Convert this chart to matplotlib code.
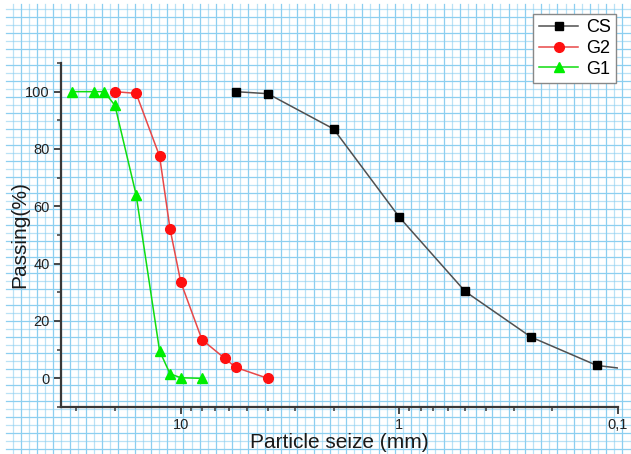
import numpy as np
import matplotlib
matplotlib.use('Agg')
import matplotlib.pyplot as plt
from matplotlib.ticker import FixedLocator, LogLocator, NullFormatter, FuncFormatter

plt.rcParams['font.family'] = ['Liberation Sans', 'DejaVu Sans']

# sieve sizes (mm) and passing (%)
cs_size = [5.6, 4, 2, 1, 0.5, 0.25, 0.125, 0.08]
cs_pass = [100, 99.3, 87.0, 56.2, 30.3, 14.4, 4.5, 2.7]

g2_size = [20, 16, 12.5, 11.2, 10, 8, 6.3, 5.6, 4]
g2_pass = [100, 99.4, 77.5, 52.2, 33.6, 13.5, 7.0, 3.8, 0]

g1_size = [31.5, 25, 22.4, 20, 16, 12.5, 11.2, 10, 8]
g1_pass = [100, 100, 100, 95.2, 64, 9.6, 1.6, 0.2, 0]

x_ticks = [10, 1, 0.1]
y_ticks = [0, 20, 40, 60, 80, 100]

W, H = 631, 454
fig = plt.figure(figsize=(W / 100, H / 100), dpi=100)

# graph paper background
bg = fig.add_axes([0, 0, 1, 1], zorder=0)
bg.set_xlim(0, W)
bg.set_ylim(H, 0)
bg.axis('off')
for i, x in enumerate(np.arange(12.7, W, 8.13)):
    bg.plot([x, x], [4, H], color='#8ccff0', lw=0.9, alpha=1.0 if i % 2 else 0.6)
for i, y in enumerate(np.arange(9.3, H, 8.0)):
    bg.plot([6, W], [y, y], color='#8ccff0', lw=0.9, alpha=1.0 if i % 2 else 0.6)

ax = fig.add_axes([61 / W, 1 - 407 / H, (618 - 61) / W, (407 - 63) / H], zorder=1)
ax.patch.set_alpha(0)

ax.plot(cs_size, cs_pass, color='#505050', lw=1.1, marker='s', ms=6,
        mfc='black', mec='black', label='CS', clip_on=True)
ax.plot(g2_size, g2_pass, color='#e84848', lw=1.1, marker='o', ms=7,
        mfc='#ff1010', mec='#ff1010', label='G2')
ax.plot(g1_size, g1_pass, color='#10dd10', lw=1.1, marker='^', ms=7,
        mfc='#00ee00', mec='#00ee00', label='G1')

ax.set_xscale('log')
ax.set_xlim(35.3, 0.1)
ax.set_ylim(-10, 110)

ax.xaxis.set_major_locator(FixedLocator(x_ticks))
ax.xaxis.set_major_formatter(FuncFormatter(lambda v, p: ('%g' % v).replace('.', ',')))
ax.xaxis.set_minor_locator(LogLocator(base=10, subs=np.arange(2, 10)))
ax.xaxis.set_minor_formatter(NullFormatter())
ax.yaxis.set_major_locator(FixedLocator(y_ticks))
ax.yaxis.set_minor_locator(FixedLocator([-10, 10, 30, 50, 70, 90, 110]))

for s in ['top', 'right']:
    ax.spines[s].set_visible(False)
for s in ['left', 'bottom']:
    ax.spines[s].set_color('#383838')
    ax.spines[s].set_linewidth(1.6)

ax.tick_params(which='major', direction='out', length=5, width=1.3, color='#383838',
               labelsize=10.5, labelcolor='#222222', pad=3)
ax.tick_params(which='minor', direction='out', length=3, width=1.1, color='#383838')

ax.set_xlabel('Particle seize (mm)', fontsize=15, color='#1a1a1a', labelpad=1)
ax.set_ylabel('Passing(%)', fontsize=15, color='#1a1a1a', labelpad=-3)

fig.legend(loc='upper right', bbox_to_anchor=(616 / W, 1 - 14 / H), fontsize=13,
           frameon=True, fancybox=False, edgecolor='#888888', framealpha=1,
           handlelength=2.2, borderpad=0.3, labelspacing=0.2, handletextpad=0.4,
           borderaxespad=0)

fig.savefig('out.png', dpi=100)
